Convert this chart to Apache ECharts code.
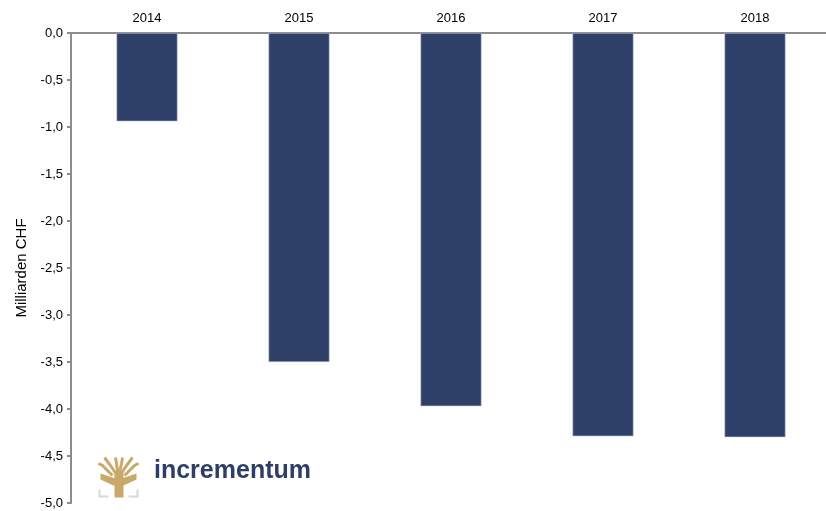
<!DOCTYPE html>
<html><head><meta charset="utf-8">
<script src="https://cdn.jsdelivr.net/npm/echarts@6/dist/echarts.min.js"></script>
<style>html,body{margin:0;padding:0;background:#fff}#c{width:826px;height:511px}</style>
</head><body><div id="c"></div>
<script>
const years = ['2014','2015','2016','2017','2018'];
const values = [-0.94, -3.50, -3.97, -4.29, -4.30];
const yTicks = [0, -0.5, -1, -1.5, -2, -2.5, -3, -3.5, -4, -4.5, -5];

const chart = echarts.init(document.getElementById('c'));
const gold = '#C8A96A';
chart.setOption({
  animation: false,
  grid: {left: 71, top: 33, right: -5, bottom: 8, outerBoundsMode: 'none', containLabel: false},
  xAxis: {
    type: 'category', data: years, position: 'top',
    axisLine: {lineStyle: {color: '#8c8c8c', width: 2}},
    axisTick: {show: false},
    axisLabel: {color: '#000', fontFamily: 'Liberation Sans', fontSize: 13, margin: 8}
  },
  yAxis: {
    type: 'value', min: -5, max: 0, interval: 0.5,
    name: 'Milliarden CHF', nameLocation: 'middle', nameGap: 42, nameRotate: 90,
    nameTextStyle: {color: '#000', fontFamily: 'Liberation Sans', fontSize: 15},
    axisLine: {show: true, lineStyle: {color: '#8c8c8c', width: 2}},
    axisTick: {show: true, length: 4, lineStyle: {color: '#8c8c8c', width: 2}},
    splitLine: {show: false},
    axisLabel: {color: '#000', fontFamily: 'Liberation Sans', fontSize: 13, margin: 8,
      formatter: v => v.toFixed(1).replace('.', ',')}
  },
  series: [{
    type: 'bar', data: values, barWidth: 61,
    itemStyle: {color: '#2E4068', borderColor: '#b8c0d8', borderWidth: 0.6}
  }],
  graphic: [
    {type: 'group', left: 96, top: 455, children: [
      {type: 'rect', shape: {x: 16, y: 14, width: 9, height: 26}, style: {fill: gold}},
      {type: 'polygon', shape: {points: [[2,16],[20,22],[38,16],[38,22],[25,28],[15,28],[2,22]]}, style: {fill: gold}},
      {type: 'polyline', shape: {points: [[20,20],[12,8],[6,0]]}, style: {stroke: gold, lineWidth: 3, fill: null}},
      {type: 'polyline', shape: {points: [[20,20],[28,8],[34,0]]}, style: {stroke: gold, lineWidth: 3, fill: null}},
      {type: 'polyline', shape: {points: [[20,20],[18,6],[17,0]]}, style: {stroke: gold, lineWidth: 3, fill: null}},
      {type: 'polyline', shape: {points: [[20,20],[23,6],[24,0]]}, style: {stroke: gold, lineWidth: 3, fill: null}},
      {type: 'polyline', shape: {points: [[14,18],[4,8],[0,6]]}, style: {stroke: gold, lineWidth: 3, fill: null}},
      {type: 'polyline', shape: {points: [[26,18],[36,8],[40,6]]}, style: {stroke: gold, lineWidth: 3, fill: null}},
      {type: 'polyline', shape: {points: [[1,32],[1,39],[10,39]]}, style: {stroke: '#d8d8d8', lineWidth: 2, fill: null}},
      {type: 'polyline', shape: {points: [[39,32],[39,39],[30,39]]}, style: {stroke: '#d8d8d8', lineWidth: 2, fill: null}}
    ]},
    {type: 'text', left: 154, top: 459, style: {text: 'incrementum', fill: '#2E3E66',
      font: 'bold 25px "Liberation Sans", sans-serif'}}
  ]
});
</script></body></html>
